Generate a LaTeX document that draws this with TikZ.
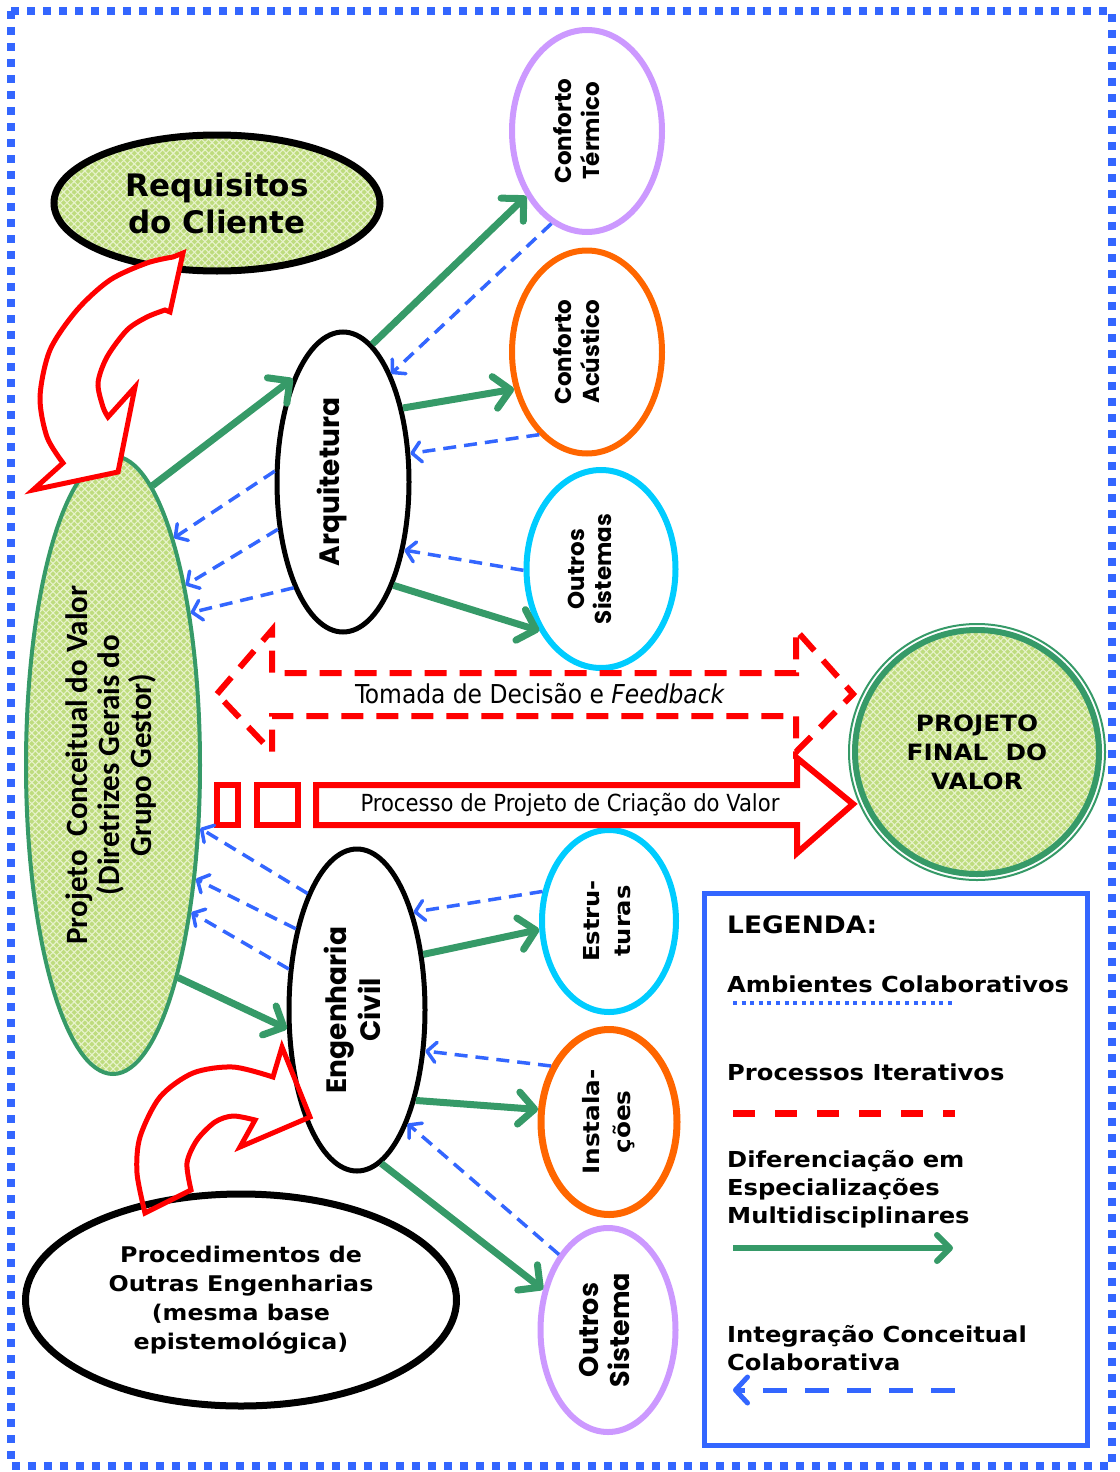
\documentclass[tikz,border=0pt]{standalone}
\usepackage{fontspec}
\usepackage{graphicx}
\setmainfont{DejaVu Sans}
\newfontfamily\verd{DejaVu Sans}[FakeStretch=1.1]
\newfontfamily\verdn{DejaVu Sans}
\newfontfamily\calib{Carlito}
\newfontfamily\popp{Poppins}
\newfontfamily\taho{DejaVu Sans Condensed}
\usetikzlibrary{shapes.geometric,arrows.meta,patterns.meta}

\definecolor{grn}{HTML}{369A68}
\definecolor{blu}{HTML}{3366FF}
\definecolor{lav}{HTML}{CC99FF}
\definecolor{org}{HTML}{FF6600}
\definecolor{cyn}{HTML}{00CCFF}
\definecolor{fillg}{HTML}{BEDC7E}
\definecolor{hatch}{HTML}{E8F3CC}

\newcommand{\vtext}[1]{\rotatebox{90}{\begin{tabular}{@{}c@{}}#1\end{tabular}}}

\tikzset{
  oval/.style={ellipse, inner sep=0pt, align=center},
  hatched/.style={
    preaction={fill=fillg},
    preaction={pattern={Lines[angle=45,distance=5pt,line width=1.1pt]}, pattern color=hatch},
    preaction={pattern={Lines[angle=-45,distance=5pt,line width=1.1pt]}, pattern color=hatch}},
  grnarrow/.style={draw=grn, line width=7pt, -{Straight Barb[length=16pt,width=32pt,round]}},
  bluarrow/.style={draw=blu, line width=3.5pt, dash pattern=on 13pt off 8pt,
    -{Straight Barb[length=9pt,width=20pt,round]}},
  redline/.style={draw=red, line width=5pt, line join=miter},
  legtext/.style={inner sep=0pt, anchor=base west, font=\verd\bfseries\fontsize{22}{28}\selectfont}
}

\begin{document}
\begin{tikzpicture}[x=1pt,y=-1pt]
\useasboundingbox (0,0) rectangle (1119,1472);

% frame of the collaborative environment
\draw[blu, line width=8pt, dash pattern=on 8pt off 8pt] (11,11) rectangle (1112,1466);

% main ellipses
\node[oval, draw=black, line width=7pt, hatched, minimum width=326pt, minimum height=136pt,
      font=\verdn\bfseries\fontsize{31}{37}\selectfont] (req) at (217,203) {Requisitos\\do Cliente};

\node[oval, draw=grn, line width=4pt, hatched, minimum width=174pt, minimum height=618pt,
      font=\calib\bfseries\fontsize{31}{30}\selectfont] (proj) at (113,765)
      {\vtext{Projeto\ \ Conceitual do Valor\\(Diretrizes Gerais do\\Grupo Gestor)}};

\node[oval, draw=black, line width=5pt, minimum width=132pt, minimum height=300pt,
      font=\popp\bfseries\fontsize{28}{30}\selectfont] (arq) at (343,482) {\rotatebox{90}{Arquitetura}\hspace*{22pt}};

\node[oval, draw=black, line width=5pt, minimum width=136pt, minimum height=322pt,
      font=\popp\bfseries\fontsize{28}{34}\selectfont] (eng) at (357,1010) {\vtext{Engenharia\\Civil}};

% specialities
\node[oval, draw=lav, line width=6pt, minimum width=150pt, minimum height=202pt,
      font=\popp\bfseries\fontsize{23}{27}\selectfont] (term) at (587,131) {\vtext{Conforto\\Térmico}\hspace*{14pt}};
\node[oval, draw=org, line width=6pt, minimum width=150pt, minimum height=203pt,
      font=\popp\bfseries\fontsize{23}{27}\selectfont] (acu) at (587,352) {\vtext{Conforto\\Acústico}\hspace*{14pt}};
\node[oval, draw=cyn, line width=6pt, minimum width=149pt, minimum height=198pt,
      font=\popp\bfseries\fontsize{23}{27}\selectfont] (osA) at (601,569) {\vtext{Outros\\Sistemas}\hspace*{16pt}};
\node[oval, draw=cyn, line width=6pt, minimum width=134pt, minimum height=182pt,
      font=\verd\bfseries\fontsize{22}{31}\selectfont] (est) at (609,921) {\vtext{Estru-\\turas}};
\node[oval, draw=org, line width=7pt, minimum width=136pt, minimum height=185pt,
      font=\verd\bfseries\fontsize{22.5}{31}\selectfont] (inst) at (609,1122) {\vtext{Instala-\\ções}};
\node[oval, draw=lav, line width=6pt, minimum width=135pt, minimum height=204pt,
      font=\popp\bfseries\fontsize{27}{31}\selectfont] (osB) at (608,1330) {\vtext{Outros\\Sistema}};

\node[oval, draw=black, line width=7pt, minimum width=431pt, minimum height=212pt,
      font=\verd\bfseries\fontsize{21.6}{29}\selectfont] (proc) at (241,1300)
      {Procedimentos de\\Outras Engenharias\\(mesma base\\epistemológica)};

% final value project
\node[circle, draw=grn, line width=6pt, hatched, minimum size=244pt, inner sep=0pt, align=center,
      font=\verd\bfseries\fontsize{22.5}{29}\selectfont] (final) at (977,752) {PROJETO\\FINAL\ \ DO\\VALOR};
\draw[grn, line width=2pt] (final.center) circle[radius=128];

% iterative decision process (dashed double block arrow)
\draw[redline, line width=6pt, dash pattern=on 22pt off 13pt]
  (217,694) -- (272,630) -- (272,673) -- (796,673) -- (796,630) -- (853,694)
  -- (796,752) -- (796,716) -- (272,716) -- (272,752) -- cycle;
\node[inner sep=0pt, font=\taho\fontsize{26}{28}\selectfont] (tfb) at (540,694)
  {Tomada de Decisão e \textit{Feedback}};

% value creation process (block arrow)
\draw[redline, line width=6pt] (217,785) rectangle (238,825);
\draw[redline, line width=6pt] (257,785) rectangle (298,825);
\draw[redline, line width=6pt]
  (316,785) -- (797,785) -- (797,758) -- (853,804) -- (797,853) -- (797,825) -- (316,825) -- cycle;
\node[inner sep=0pt, font=\taho\fontsize{23.5}{26}\selectfont] (pcv) at (570,805)
  {Processo de Projeto de Criação do Valor};

% curved arrow: client requirements
\draw[redline, fill=white]
  (183,253) -- (170,312) -- plot[smooth] coordinates {(165,310) (147,317) (127,330) (107,357) (98,383) (103,407) (108,417)}
  -- (135,387) -- (118,472) -- (33,490) -- (63,463)
  -- plot[smooth] coordinates {(63,463) (47,437) (40,397) (50,350) (77,310) (110,280) (147,263) (173,257)} -- cycle;

% curved arrow: other engineering procedures
\draw[redline]
  (282,1047) -- (310,1117) -- (240,1147) -- (255,1120)
  -- plot[smooth] coordinates {(255,1120) (233,1116) (215,1122) (197,1140) (187,1163) (191,1190)}
  -- (145,1213)
  -- plot[smooth] coordinates {(145,1213) (137,1173) (140,1137) (160,1097) (193,1073) (233,1067) (273,1077)} -- cycle;

% differentiation into specialities
\draw[grnarrow] (proj.82.7) -- (arq.116.6);
\draw[grnarrow] (arq.78.7) -- (term.227);
\draw[grnarrow] (arq.51) -- (acu.207);
\draw[grnarrow] (arq.296) -- (osA.225.5);
\draw[grnarrow] (proj.287) -- (eng.195);
\draw[grnarrow] (eng.40.5) -- (est.187.4);
\draw[grnarrow] (eng.303) -- (inst.170);
\draw[grnarrow] (eng.279.5) -- (osB.148.3);

% conceptual integration
\draw[bluarrow] (term.249) -- (arq.66.7);
\draw[bluarrow] (acu.240) -- (arq.23.5);
\draw[bluarrow] (osA.181.5) -- (arq.312);
\draw[bluarrow] (arq.171.4) -- (proj.75.3);
\draw[bluarrow] (arq.216.4) -- (proj.68.5);
\draw[bluarrow] (arq.245) -- (proj.63.3);
\draw[bluarrow] (est.156) -- (eng.60.3);
\draw[bluarrow] (inst.136) -- (eng.329.4);
\draw[bluarrow] (osB.123.5) -- (eng.294.5);
\draw[bluarrow] (eng.113) -- (proj.324);
\draw[bluarrow] (eng.127) -- (proj.306);
\draw[bluarrow] (eng.149) -- (proj.298);

% legend
\node[draw=blu, line width=5pt, minimum width=383pt, minimum height=552pt, inner sep=0pt] (leg) at (895.5,1169) {};
\node[legtext, font=\verd\bfseries\fontsize{24}{28}\selectfont] (l0) at (727,933) {LEGENDA:};
\node[legtext] (l1) at (727,992) {Ambientes Colaborativos};
\coordinate (d1a) at (733,1003);
\coordinate (d1b) at (955,1003);
\draw[blu, line width=4pt, dash pattern=on 4pt off 4.6pt] (d1a) -- (d1b);
\node[legtext] (l2) at (727,1080) {Processos Iterativos};
\coordinate (d2a) at (733,1113);
\coordinate (d2b) at (955,1113);
\draw[red, line width=7pt, dash pattern=on 22pt off 20pt] (d2a) -- (d2b);
\node[legtext] (l3) at (727,1167)
  {\begin{tabular}[t]{@{}l@{}}Diferenciação em\\Especializações\\Multidisciplinares\end{tabular}};
\coordinate (d3a) at (733,1248);
\coordinate (d3b) at (953,1248);
\draw[grnarrow, line width=6pt, -{Straight Barb[length=13pt,width=26pt,round]}] (d3a) -- (d3b);
\node[legtext] (l4) at (727,1342)
  {\begin{tabular}[t]{@{}l@{}}Integração Conceitual\\Colaborativa\end{tabular}};
\coordinate (d4a) at (955,1390);
\coordinate (d4b) at (733,1390);
\draw[bluarrow, line width=5pt, dash pattern=on 24pt off 18pt,
      -{Straight Barb[length=12pt,width=26pt,round]}] (d4a) -- (d4b);
\end{tikzpicture}
\end{document}
